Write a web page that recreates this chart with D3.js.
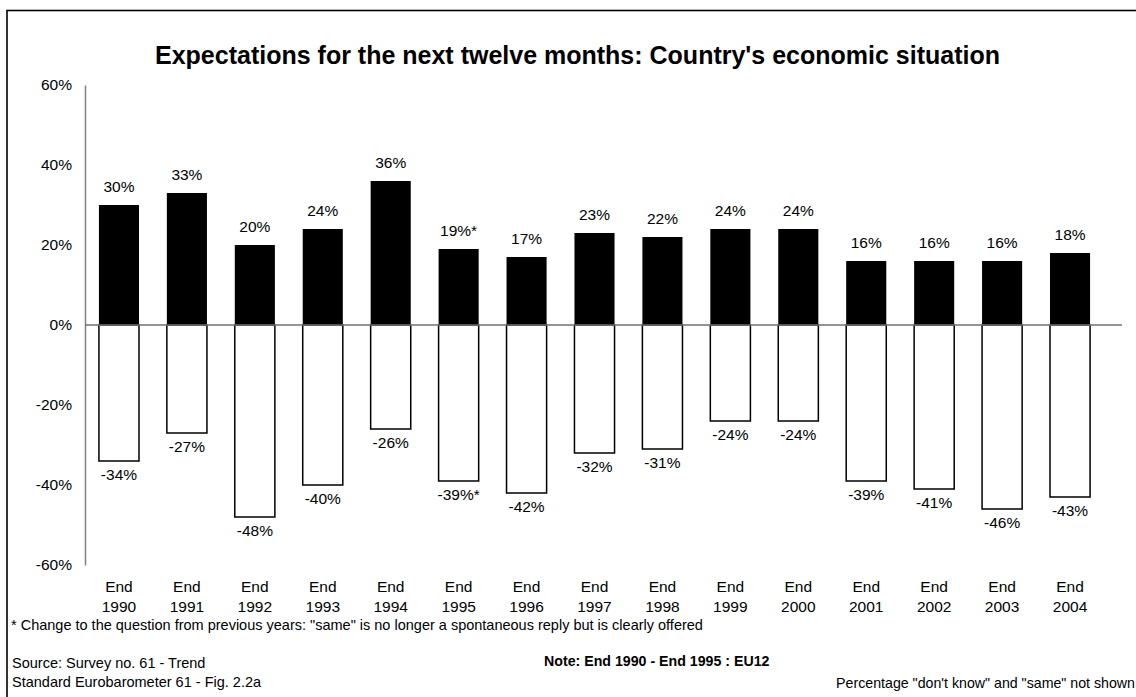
<!DOCTYPE html>
<html>
<head>
<meta charset="utf-8">
<script src="https://cdn.jsdelivr.net/npm/d3@7"></script>
<style>
  html, body { margin: 0; padding: 0; background: #fff; }
  svg { display: block; font-family: "Liberation Sans", Arial, sans-serif; }
</style>
</head>
<body>
<svg id="chart" width="1136" height="697"></svg>
<script>
// Survey waves (two-line labels: "End" / year)
const categories = ["End 1990", "End 1991", "End 1992", "End 1993", "End 1994",
  "End 1995", "End 1996", "End 1997", "End 1998", "End 1999",
  "End 2000", "End 2001", "End 2002", "End 2003", "End 2004"];

// Share expecting the situation to get better (%)
const better = [30, 33, 20, 24, 36, 19, 17, 23, 22, 24, 24, 16, 16, 16, 18];

// Share expecting the situation to get worse (%), shown as negative
const worse = [-34, -27, -48, -40, -26, -39, -42, -32, -31, -24, -24, -39, -41, -46, -43];

// Waves whose question wording changed (flagged with an asterisk)
const flagged = ["End 1995"];

const yTicks = [-60, -40, -20, 0, 20, 40, 60];

const svg = d3.select("#chart");

// Outer frame
svg.append("rect")
  .attr("x", 7).attr("y", 10.5)
  .attr("width", 1400).attr("height", 1000)
  .attr("fill", "none").attr("stroke", "#000").attr("stroke-width", 1.6);

// Title
svg.append("text")
  .attr("x", 577.5).attr("y", 64)
  .attr("text-anchor", "middle")
  .attr("font-size", 25).attr("font-weight", "bold")
  .text("Expectations for the next twelve months: Country's economic situation");

const plotLeft = 85, zeroLineEnd = 1122;

const x = d3.scaleBand()
  .domain(categories)
  .range([plotLeft, 1104])
  .paddingInner(0.41)
  .paddingOuter(0.205);

const y = d3.scaleLinear().domain([-60, 60]).range([565, 85]);

const fmt = v => v + "%";

// Y axis
const yAxis = d3.axisLeft(y)
  .tickValues(yTicks)
  .tickFormat(fmt)
  .tickSize(0)
  .tickSizeOuter(0)
  .tickPadding(13);

const gy = svg.append("g").attr("transform", `translate(${plotLeft},0)`).call(yAxis);
gy.select(".domain").attr("stroke", "#808080").attr("stroke-width", 1.5);
gy.selectAll("text")
  .attr("font-size", 15.5)
  .attr("font-family", "\"Liberation Sans\", Arial, sans-serif")
  .attr("fill", "#000");

// Bars: "better" (black)
svg.append("g").selectAll("rect")
  .data(categories)
  .join("rect")
  .attr("x", (d) => x(d))
  .attr("width", x.bandwidth())
  .attr("y", (d, i) => y(better[i]))
  .attr("height", (d, i) => y(0) - y(better[i]))
  .attr("fill", "#000");

// Bars: "worse" (white, outlined)
svg.append("g").selectAll("rect")
  .data(categories)
  .join("rect")
  .attr("x", (d) => x(d))
  .attr("width", x.bandwidth())
  .attr("y", y(0))
  .attr("height", (d, i) => y(worse[i]) - y(0))
  .attr("fill", "#fff")
  .attr("stroke", "#000")
  .attr("stroke-width", 1.5);

// Zero line (category axis)
svg.append("line")
  .attr("x1", plotLeft).attr("x2", zeroLineEnd)
  .attr("y1", y(0)).attr("y2", y(0))
  .attr("stroke", "#707070").attr("stroke-width", 1.5);

const star = d => flagged.includes(d) ? "*" : "";

// Value labels
svg.append("g").selectAll("text")
  .data(categories)
  .join("text")
  .attr("x", d => x(d) + x.bandwidth() / 2)
  .attr("y", (d, i) => y(better[i]) - 13)
  .attr("text-anchor", "middle")
  .attr("font-size", 15.5)
  .text((d, i) => fmt(better[i]) + star(d));

svg.append("g").selectAll("text")
  .data(categories)
  .join("text")
  .attr("x", d => x(d) + x.bandwidth() / 2)
  .attr("y", (d, i) => y(worse[i]) + 19)
  .attr("text-anchor", "middle")
  .attr("font-size", 15.5)
  .text((d, i) => fmt(worse[i]) + star(d));

// Category labels on two lines
const cat = svg.append("g").selectAll("text")
  .data(categories)
  .join("text")
  .attr("text-anchor", "middle")
  .attr("font-size", 15.5);
cat.each(function(d) {
  const parts = d.split(" ");
  const cx = x(d) + x.bandwidth() / 2;
  const t = d3.select(this);
  t.append("tspan").attr("x", cx).attr("y", 592).text(parts[0]);
  t.append("tspan").attr("x", cx).attr("y", 612).text(parts[1]);
});

// Footnotes
const notes = svg.append("g");
notes.append("text").attr("x", 11).attr("y", 630).attr("font-size", 14.5)
  .text("* Change to the question from previous years: \"same\" is no longer a spontaneous reply but is clearly offered");
notes.append("text").attr("x", 12).attr("y", 668).attr("font-size", 14.5)
  .text("Source: Survey no. 61 - Trend");
notes.append("text").attr("x", 12).attr("y", 687).attr("font-size", 14.5)
  .text("Standard Eurobarometer 61 - Fig. 2.2a");
notes.append("text").attr("x", 544).attr("y", 666).attr("font-size", 14.2)
  .attr("font-weight", "bold")
  .text("Note: End 1990 - End 1995 : EU12");
notes.append("text").attr("x", 1135).attr("y", 688).attr("font-size", 14.2)
  .attr("text-anchor", "end")
  .text("Percentage \"don't know\" and \"same\" not shown");
</script>
</body>
</html>
